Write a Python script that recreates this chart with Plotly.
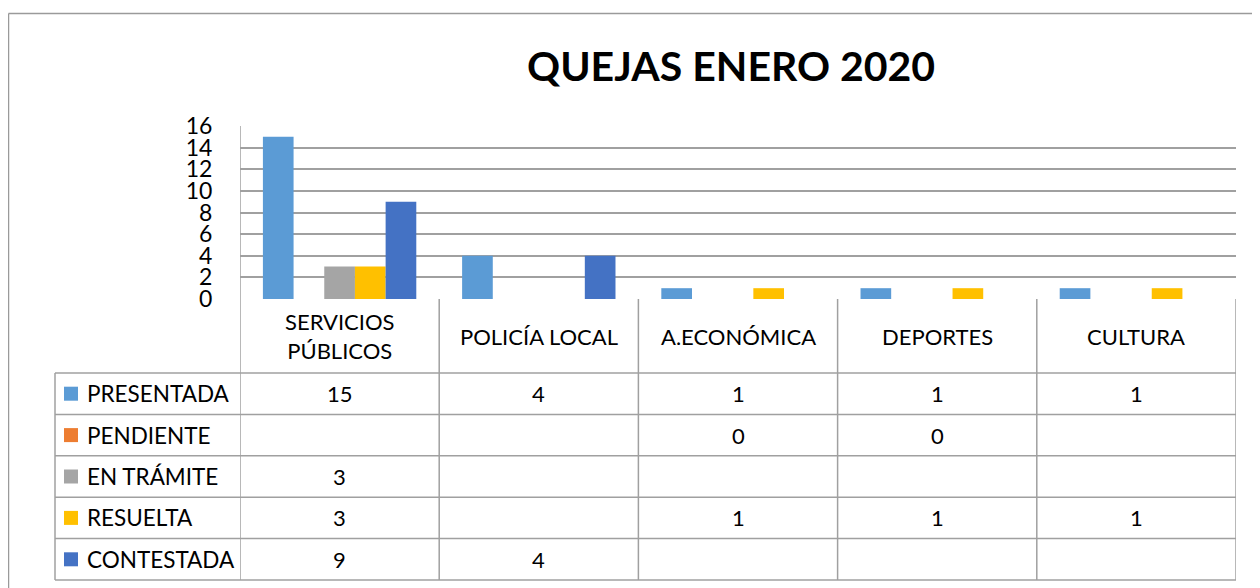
import plotly.graph_objects as go

# ---------------- data ----------------
categories = ["SERVICIOS<br>PÚBLICOS", "POLICÍA LOCAL", "A.ECONÓMICA", "DEPORTES", "CULTURA"]
series_names = ["PRESENTADA", "PENDIENTE", "EN TRÁMITE", "RESUELTA", "CONTESTADA"]
presentada = [15, 4, 1, 1, 1]
pendiente = [None, None, 0, 0, None]
en_tramite = [3, None, None, None, None]
resuelta = [3, None, 1, 1, 1]
contestada = [9, 4, None, None, None]
series_values = [presentada, pendiente, en_tramite, resuelta, contestada]
series_colors = ["#5B9BD5", "#ED7D31", "#A5A5A5", "#FFC000", "#4472C4"]
y_ticks = [0, 2, 4, 6, 8, 10, 12, 14, 16]
title_text = "QUEJAS ENERO 2020"

# ---------------- layout geometry (screen pixels) ----------------
OFF = 8                                   # page body margin
W, H = 1260 - OFF, 588 - OFF              # figure size
PL, PR, PT, PB = 240, 1236, 126, 299      # plot area in screen pixels
FONT = "Lato, Carlito, Calibri, sans-serif"
GRID = "#A0A0A0"


def px_x(px):
    return (px - PL) / (PR - PL)


def px_y(py):
    return (PB - py) / (PB - PT)


header_bottom = 373
row_h = 41.4
table_left = 55

fig = go.Figure()
idx = list(range(len(categories)))
for name, vals, col in zip(series_names, series_values, series_colors):
    fig.add_trace(go.Bar(x=idx, y=vals, name=name, marker=dict(color=col, line=dict(width=0)),
                         showlegend=False, hoverinfo="y+name"))

shapes = []
annotations = []

# outer frame (left and top edges visible)
shapes.append(dict(type="line", xref="paper", yref="paper", x0=px_x(8.5), x1=px_x(8.5),
                   y0=px_y(700), y1=px_y(13.5), line=dict(color="#9A9A9A", width=1.5)))
shapes.append(dict(type="line", xref="paper", yref="paper", x0=px_x(8.5), x1=px_x(1300),
                   y0=px_y(13.5), y1=px_y(13.5), line=dict(color="#9A9A9A", width=1.5)))

# table: vertical lines at category boundaries
n = len(categories)
for i in range(n + 1):
    shapes.append(dict(type="line", xref="x", yref="paper", x0=i - 0.5, x1=i - 0.5,
                       y0=px_y(header_bottom + row_h * len(series_names)),
                       y1=px_y(PT) if i == 0 else px_y(PB),
                       line=dict(color=GRID, width=1.5)))
# legend column left edge
shapes.append(dict(type="line", xref="paper", yref="paper", x0=px_x(table_left), x1=px_x(table_left),
                   y0=px_y(header_bottom), y1=px_y(header_bottom + row_h * len(series_names)),
                   line=dict(color=GRID, width=1.5)))
# horizontal table lines
for r in range(len(series_names) + 1):
    yy = header_bottom + r * row_h
    shapes.append(dict(type="line", xref="paper", yref="paper", x0=px_x(table_left), x1=px_x(PR),
                       y0=px_y(yy), y1=px_y(yy), line=dict(color=GRID, width=1.5)))

# header labels
for i, c in enumerate(categories):
    annotations.append(dict(x=i, y=px_y((PB + header_bottom) / 2), xref="x", yref="paper",
                            text=c, showarrow=False, xanchor="center", yanchor="middle",
                            font=dict(family=FONT, size=22, color="#000000")))

# rows
for r, (name, vals, col) in enumerate(zip(series_names, series_values, series_colors)):
    cy = header_bottom + (r + 0.5) * row_h
    shapes.append(dict(type="rect", xref="paper", yref="paper", x0=px_x(64), x1=px_x(78),
                       y0=px_y(cy + 7), y1=px_y(cy - 7), fillcolor=col, line=dict(width=0)))
    annotations.append(dict(x=px_x(85), y=px_y(cy), xref="paper", yref="paper", text=name,
                            showarrow=False, xanchor="left", yanchor="middle",
                            font=dict(family=FONT, size=22.5, color="#000000")))
    for i, v in enumerate(vals):
        if v is None:
            continue
        annotations.append(dict(x=i, y=px_y(cy), xref="x", yref="paper", text=str(v),
                                showarrow=False, xanchor="center", yanchor="middle",
                                font=dict(family=FONT, size=22, color="#000000")))

# title
annotations.append(dict(x=px_x(731), y=px_y(66), xref="paper", yref="paper", text="<b>" + title_text + "</b>",
                        showarrow=False, xanchor="center", yanchor="middle",
                        font=dict(family=FONT, size=41, color="#000000")))

fig.update_layout(
    width=W, height=H,
    margin=dict(l=PL - OFF, r=W - (PR - OFF), t=PT - OFF, b=H - (PB - OFF), pad=0),
    paper_bgcolor="white", plot_bgcolor="white",
    barmode="group", bargap=0.23, bargroupgap=0,
    shapes=shapes, annotations=annotations,
    font=dict(family=FONT),
    xaxis=dict(range=[-0.5, n - 0.5], showticklabels=False, showgrid=False, zeroline=False,
               showline=False, ticks=""),
    yaxis=dict(range=[0, 16], tickvals=y_ticks, showgrid=True, gridcolor=GRID, gridwidth=1.5,
               zeroline=False, showline=False, ticks="outside", ticklen=22,
               tickcolor="rgba(0,0,0,0)", tickfont=dict(family=FONT, size=23, color="#000000")),
)

fig.write_html("out.html")
